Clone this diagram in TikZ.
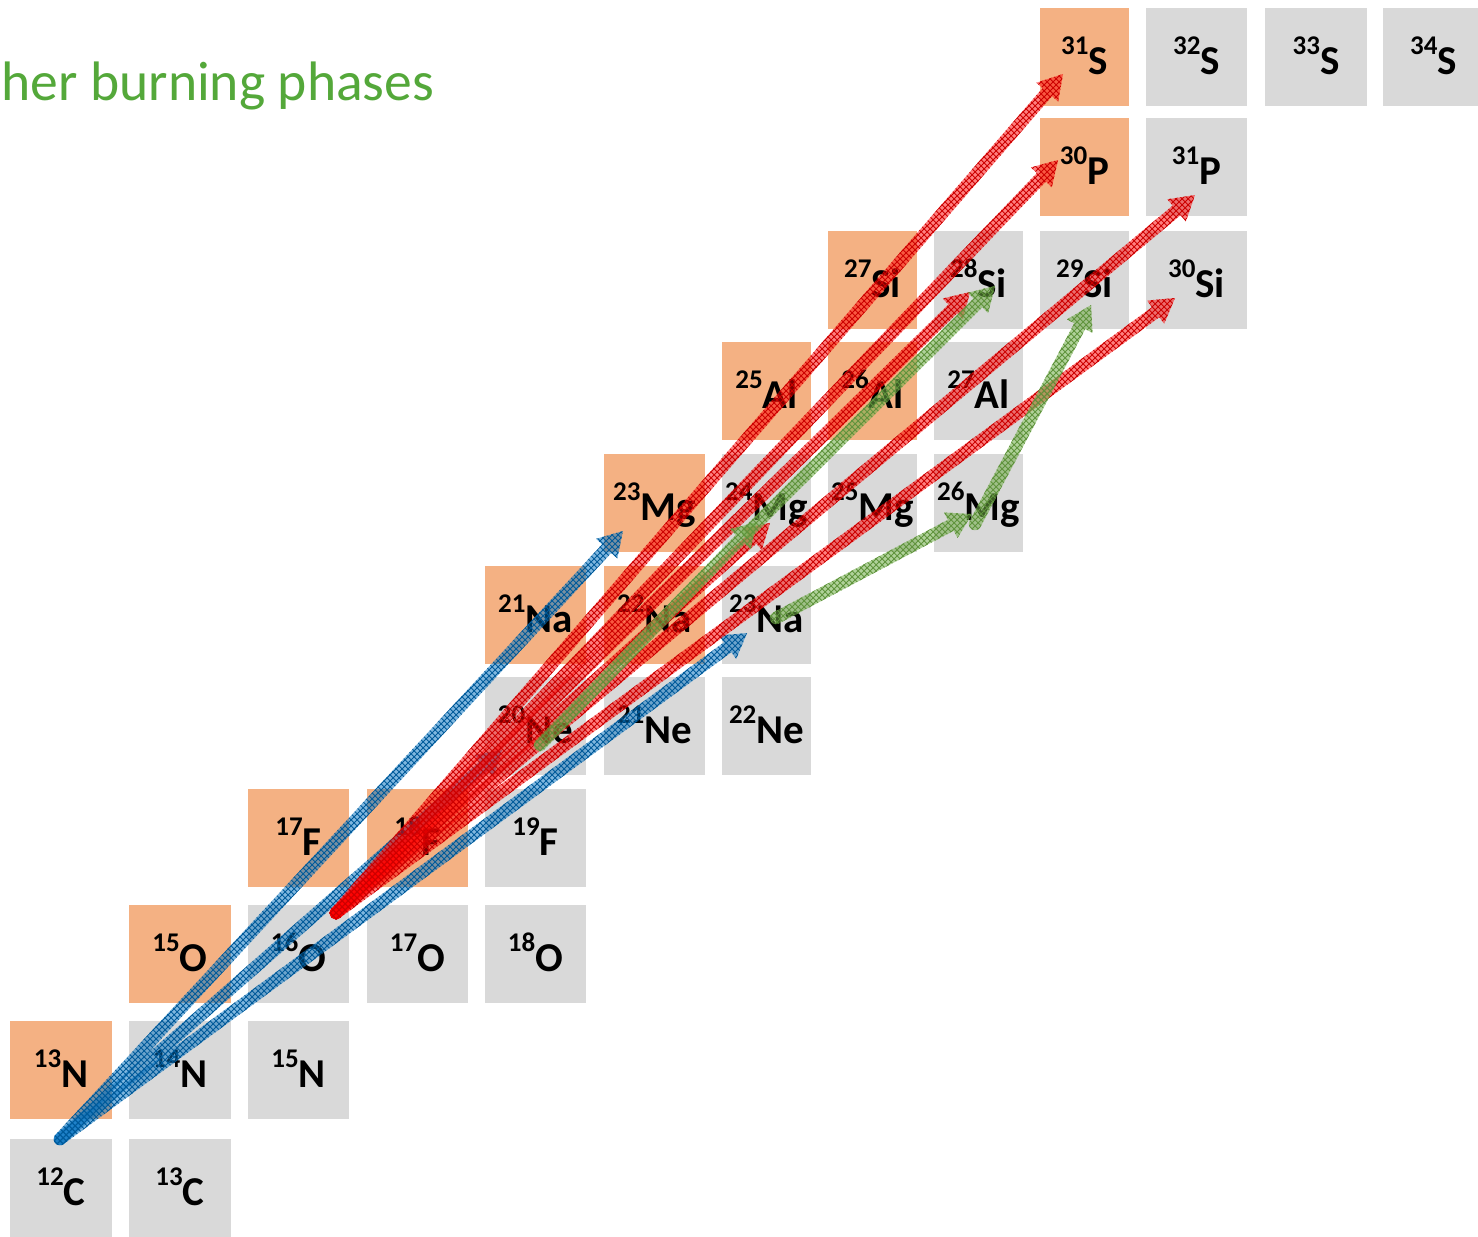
\documentclass[tikz,border=0pt]{standalone}
\usepackage{fontspec}
\setmainfont{Carlito}
\usetikzlibrary{calc,patterns}
\definecolor{unst}{RGB}{244,177,131}
\definecolor{stab}{RGB}{217,217,217}
\definecolor{titlegreen}{RGB}{84,168,58}
\definecolor{arrblue}{RGB}{0,112,192}
\definecolor{arrred}{RGB}{255,0,0}
\definecolor{arrgreen}{RGB}{112,173,71}
\tikzset{
  cellbox/.style={rectangle, draw=none, inner sep=0pt, minimum height=49pt},
  nuclab/.style={inner sep=0pt, anchor=base, font=\bfseries, text=black},
  bluearr/.style={fill=arrblue, fill opacity=0.5, postaction={pattern=crosshatch, pattern color=arrblue!80!black}},
  redarr/.style={fill=arrred, fill opacity=0.5, postaction={pattern=crosshatch, pattern color=arrred!80!black}},
  greenarr/.style={fill=arrgreen, fill opacity=0.55, postaction={pattern=crosshatch, pattern color=arrgreen!85!black}},
}
% #1 name, #2 left, #3 top, #4 width, #5 fill, #6 mass, #7 symbol
\newcommand\nuc[7]{%
  \node[cellbox, fill=#5, minimum width=#4*0.5pt] (#1) at ({#2+#4/2},{#3+49}) {};
  \node[nuclab] (#1t) at ({#2+#4/2},{#3+66}) {\raisebox{10pt}{\fontsize{13.5}{13.5}\selectfont #6}\fontsize{20.5}{20.5}\selectfont #7};
}
% #1 style, #2 from, #3 to
\newcommand\fatarr[3]{%
  \path[#1] let \p1=(#2), \p2=(#3), \n1={atan2(\y2-\y1,\x2-\x1)} in
   ($(\p1)+(\n1+90:3.1pt)$) -- ($(\p2)+(\n1+180:12pt)+(\n1+90:3.1pt)$)
   -- ($(\p2)+(\n1+180:12pt)+(\n1+90:7.2pt)$) -- (\p2)
   -- ($(\p2)+(\n1+180:12pt)+(\n1-90:7.2pt)$) -- ($(\p2)+(\n1+180:12pt)+(\n1-90:3.1pt)$)
   -- ($(\p1)+(\n1-90:3.1pt)$) arc[start angle=\n1-90, end angle=\n1-270, radius=3.1pt] -- cycle;
}
\begin{document}
\begin{tikzpicture}[x=0.5pt,y=-0.5pt]
\useasboundingbox (0,0) rectangle (1478,1237);
\clip (0,0) rectangle (1478,1237);
\node[anchor=base west, inner sep=0pt, text=titlegreen, font=\fontsize{27.8}{27.8}\selectfont] (title) at (1,100) {her burning phases};
% Z=6
\nuc{C12}{10}{1139}{102}{stab}{12}{C}
\nuc{C13}{129}{1139}{102}{stab}{13}{C}
% Z=7
\nuc{N13}{10}{1021}{102}{unst}{13}{N}
\nuc{N14}{129}{1021}{102}{stab}{14}{N}
\nuc{N15}{248}{1021}{101}{stab}{15}{N}
% Z=8
\nuc{O15}{129}{905}{102}{unst}{15}{O}
\nuc{O16}{248}{905}{101}{stab}{16}{O}
\nuc{O17}{367}{905}{101}{stab}{17}{O}
\nuc{O18}{485}{905}{101}{stab}{18}{O}
% Z=9
\nuc{F17}{248}{789}{101}{unst}{17}{F}
\nuc{F18}{367}{789}{101}{unst}{18}{F}
\nuc{F19}{485}{789}{101}{stab}{19}{F}
% Z=10
\nuc{Ne20}{485}{677}{101}{stab}{20}{Ne}
\nuc{Ne21}{604}{677}{101}{stab}{21}{Ne}
\nuc{Ne22}{722}{677}{89}{stab}{22}{Ne}
% Z=11
\nuc{Na21}{485}{566}{101}{unst}{21}{Na}
\nuc{Na22}{604}{566}{101}{unst}{22}{Na}
\nuc{Na23}{722}{566}{89}{stab}{23}{Na}
% Z=12
\nuc{Mg23}{604}{454}{101}{unst}{23}{Mg}
\nuc{Mg24}{722}{454}{89}{stab}{24}{Mg}
\nuc{Mg25}{828}{454}{89}{stab}{25}{Mg}
\nuc{Mg26}{934}{454}{89}{stab}{26}{Mg}
% Z=13
\nuc{Al25}{722}{342}{89}{unst}{25}{Al}
\nuc{Al26}{828}{342}{89}{unst}{26}{Al}
\nuc{Al27}{934}{342}{89}{stab}{27}{Al}
% Z=14
\nuc{Si27}{828}{231}{89}{unst}{27}{Si}
\nuc{Si28}{934}{231}{89}{stab}{28}{Si}
\nuc{Si29}{1040}{231}{89}{stab}{29}{Si}
\nuc{Si30}{1146}{231}{101}{stab}{30}{Si}
% Z=15
\nuc{P30}{1040}{118}{89}{unst}{30}{P}
\nuc{P31}{1146}{118}{101}{stab}{31}{P}
% Z=16
\nuc{S31}{1040}{8}{89}{unst}{31}{S}
\nuc{S32}{1146}{8}{101}{stab}{32}{S}
\nuc{S33}{1265}{8}{102}{stab}{33}{S}
\nuc{S34}{1383}{8}{101}{stab}{34}{S}
% arrow end points
\coordinate (oC) at (60,1139);
\coordinate (tMg23) at (623,531);
\coordinate (tNa23) at (747,633);
\coordinate (tNe20) at (502,750);
\coordinate (oO) at (336,913);
\coordinate (tS31) at (1063,74);
\coordinate (tP30) at (1058,160);
\coordinate (tSi28) at (970,292);
\coordinate (tMg24r) at (770,523);
\coordinate (tP31) at (1195,195);
\coordinate (tSi30) at (1175,298);
\coordinate (oNe) at (540,745);
\coordinate (tMg24g) at (757,522);
\coordinate (oMg24) at (748,532);
\coordinate (tSi28g) at (995,286);
\coordinate (oNa) at (776,618);
\coordinate (tMg26) at (972,514);
\coordinate (oMg26) at (975,524);
\coordinate (tSi29) at (1091,305);
% blue: carbon burning
\fatarr{bluearr}{oC}{tNe20}
\fatarr{bluearr}{oC}{tMg23}
\fatarr{bluearr}{oC}{tNa23}
% red: oxygen burning
\fatarr{redarr}{oO}{tMg24r}
\fatarr{redarr}{oO}{tSi28}
\fatarr{redarr}{oO}{tSi30}
\fatarr{redarr}{oO}{tP31}
\fatarr{redarr}{oO}{tP30}
\fatarr{redarr}{oO}{tS31}
% green
\fatarr{greenarr}{oNe}{tMg24g}
\fatarr{greenarr}{oMg24}{tSi28g}
\fatarr{greenarr}{oNa}{tMg26}
\fatarr{greenarr}{oMg26}{tSi29}
\end{tikzpicture}
\end{document}
